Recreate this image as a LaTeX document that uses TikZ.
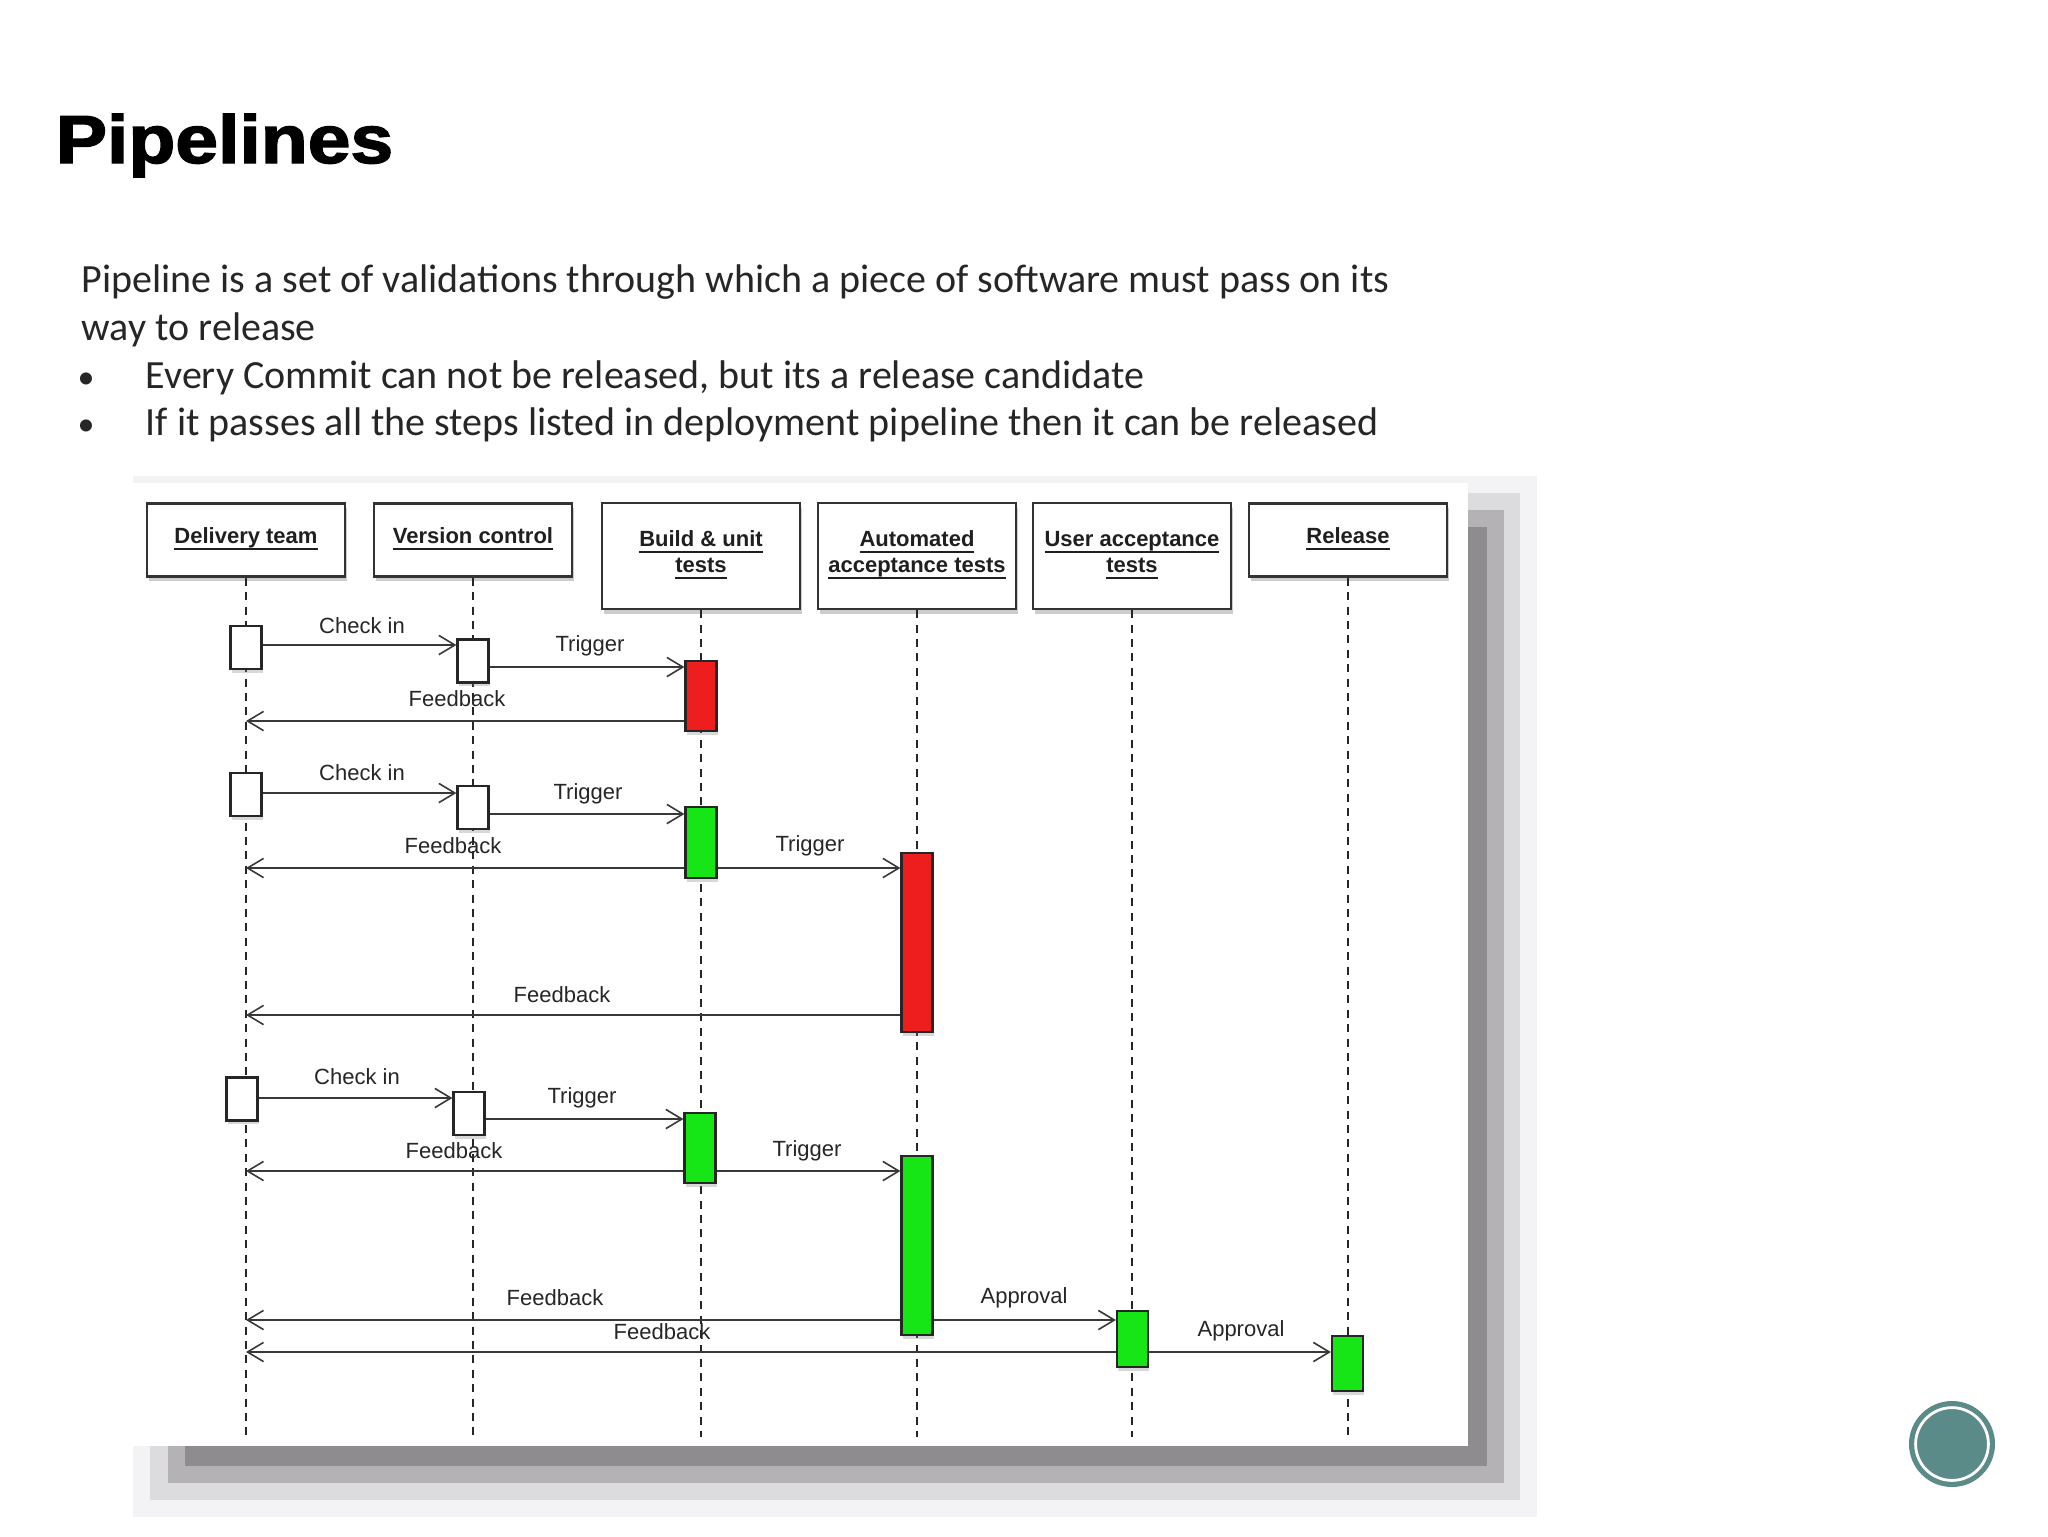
\documentclass[tikz,border=0pt]{standalone}
\usepackage{fontspec}
\usepackage{graphicx}
\setmainfont{Liberation Sans}
\newfontfamily\bodyfont{Carlito}
\newfontfamily\titlefont[FakeBold=2]{Liberation Sans Bold}
\usetikzlibrary{arrows.meta,shadows}
\newcommand\hul[1]{\underline{\smash{#1}\vphantom{A}}}
\definecolor{bodytext}{HTML}{262626}
\definecolor{actred}{HTML}{EE1E1E}
\definecolor{actgreen}{HTML}{16E616}
\definecolor{shA}{HTML}{F3F2F4}
\definecolor{shB}{HTML}{DCDBDD}
\definecolor{shC}{HTML}{B4B2B5}
\definecolor{shD}{HTML}{8E8C8F}
\definecolor{logoteal}{HTML}{5B8B89}
\tikzset{
  body/.style={anchor=base west, inner sep=0, font=\bodyfont\fontsize{10}{12}\selectfont, text=bodytext},
  hdr/.style={draw=black!80, line width=0.6pt, fill=white, minimum width=49.5pt,
    minimum height=18.25pt, inner sep=1pt, align=center, text=black!88,
    font=\bfseries\fontsize{5.5}{6.5}\selectfont,
    drop shadow={shadow xshift=0.4pt, shadow yshift=-1.2pt, opacity=0.4}},
  hdrtall/.style={hdr, minimum height=26.5pt},
  act/.style={draw=black!85, line width=0.55pt, minimum width=7.75pt, inner sep=0,
    drop shadow={shadow xshift=0.3pt, shadow yshift=-0.9pt, opacity=0.3}},
  wbox/.style={act, fill=white, minimum height=10.75pt},
  rbox/.style={act, fill=actred},
  gbox/.style={act, fill=actgreen},
  life/.style={black!85, line width=0.45pt, dash pattern=on 2pt off 1.6pt},
  msg/.style={black!78, line width=0.45pt,
    -{Straight Barb[length=4pt, width=4.8pt, line width=0.4pt]}},
  lab/.style={inner sep=0, text=black!85, font=\fontsize{5.5}{6.6}\selectfont},
}
\begin{document}
\begin{tikzpicture}[x=0.25pt, y=-0.25pt]
\useasboundingbox (0,0) rectangle (2048,1536);
\fill[white] (0,0) rectangle (2048,1536);

% title and text
\node[anchor=base west, inner sep=0] (title) at (55,163)
  {\scalebox{1.13}[1]{\titlefont\fontsize{17}{20}\selectfont Pipelines}};
\node[body] (t1) at (81,292) {Pipeline is a set of validations through which a piece of software must pass on its};
\node[body] (t2) at (81,340) {way to release};
\node[body, anchor=base] (bul1) at (86,388) {\scalebox{0.85}{•}};
\node[body] (t3) at (145,388) {Every Commit can not be released, but its a release candidate};
\node[body, anchor=base] (bul2) at (86,435) {\scalebox{0.85}{•}};
\node[body] (t4) at (145,435) {If it passes all the steps listed in deployment pipeline then it can be released};

% panel with stepped shadow
\fill[shA] (133,476) rectangle (1537,1517);
\fill[shB] (150,493) rectangle (1520,1500);
\fill[shC] (168,510) rectangle (1504,1483);
\fill[shD] (185,527) rectangle (1487,1466);
\fill[white] (131,483) rectangle (1468,1446);

% headers
\node[hdr] (hD) at (246,540) {\hul{Delivery team}};
\node[hdr] (hV) at (473,540) {\hul{Version control}};
\node[hdrtall] (hB) at (701,556) {\hul{Build \& unit}\\\hul{tests}};
\node[hdrtall] (hA) at (917,556) {\hul{Automated}\\\hul{acceptance tests}};
\node[hdrtall] (hU) at (1132,556) {\hul{User acceptance}\\\hul{tests}};
\node[hdr] (hR) at (1348,540) {\hul{Release}};

% lifelines
\foreach \h in {hD,hV,hB,hA,hU,hR}
  \draw[life] (\h.south) -- (\h.south |- 0,1437);

% activation boxes
\node[wbox] (d1) at (246,647.5) {};
\node[wbox] (v1) at (473,661) {};
\node[rbox, minimum height=17.5pt] (b1) at (701,696) {};

\node[wbox] (d2) at (246,794.5) {};
\node[wbox] (v2) at (473,807.5) {};
\node[gbox, minimum height=17.75pt] (b2) at (701,842.5) {};
\node[rbox, minimum height=44.75pt] (a2) at (917,942.5) {};

\node[wbox] (d3) at (242,1099) {};
\node[wbox] (v3) at (469,1113.5) {};
\node[gbox, minimum height=17.5pt] (b3) at (700,1148) {};
\node[gbox, minimum height=44.75pt] (a3) at (917,1245.5) {};
\node[gbox, minimum height=14pt] (u3) at (1132.5,1339) {};
\node[gbox, minimum height=13.75pt] (r3) at (1347.5,1363.5) {};

% messages, row 1
\draw[msg] (d1.east |- 0,645) -- (v1.west |- 0,645);
\draw[msg] (v1.east |- 0,667) -- (b1.west |- 0,667);
\draw[msg] (b1.west |- 0,721) -- (hD.south |- 0,721);
% row 2
\draw[msg] (d2.east |- 0,793) -- (v2.west |- 0,793);
\draw[msg] (v2.east |- 0,814) -- (b2.west |- 0,814);
\draw[msg] (b2.west |- 0,868) -- (hD.south |- 0,868);
\draw[msg] (b2.east |- 0,868) -- (a2.west |- 0,868);
\draw[msg] (a2.west |- 0,1015) -- (hD.south |- 0,1015);
% row 3
\draw[msg] (d3.east |- 0,1098) -- (v3.west |- 0,1098);
\draw[msg] (v3.east |- 0,1119) -- (b3.west |- 0,1119);
\draw[msg] (b3.west |- 0,1171) -- (hD.south |- 0,1171);
\draw[msg] (b3.east |- 0,1171) -- (a3.west |- 0,1171);
\draw[msg] (a3.west |- 0,1320) -- (hD.south |- 0,1320);
\draw[msg] (a3.east |- 0,1320) -- (u3.west |- 0,1320);
\draw[msg] (u3.west |- 0,1352) -- (hD.south |- 0,1352);
\draw[msg] (u3.east |- 0,1352) -- (r3.west |- 0,1352);

% labels
\node[lab] (l1) at (362,626) {Check in};
\node[lab] (l2) at (590,646) {Trigger};
\node[lab] (l3) at (457,699) {Feedback};
\node[lab] (l4) at (362,773) {Check in};
\node[lab] (l5) at (588,794) {Trigger};
\node[lab] (l6) at (453,846) {Feedback};
\node[lab] (l7) at (810,846) {Trigger};
\node[lab] (l8) at (562,995) {Feedback};
\node[lab] (l9) at (357,1077) {Check in};
\node[lab] (l10) at (582,1098) {Trigger};
\node[lab] (l11) at (454,1151) {Feedback};
\node[lab] (l12) at (807,1151) {Trigger};
\node[lab] (l13) at (555,1298) {Feedback};
\node[lab] (l14) at (1024,1298) {Approval};
\node[lab] (l15) at (662,1332) {Feedback};
\node[lab] (l16) at (1241,1331) {Approval};

% logo circle
\node[circle, fill=logoteal, minimum size=21.5pt, inner sep=0] (logo) at (1952,1444) {};
\draw[white, line width=0.7pt] (logo.center) circle[radius=9.1pt];
\end{tikzpicture}
\end{document}
